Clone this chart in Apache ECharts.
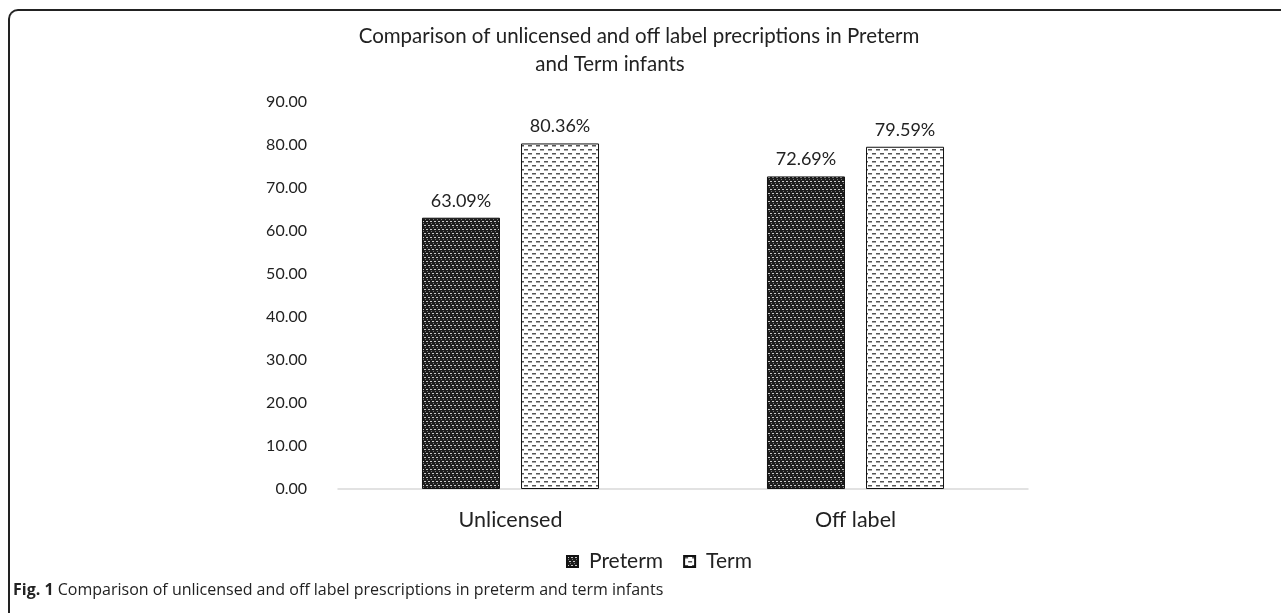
<!DOCTYPE html>
<html>
<head>
<meta charset="utf-8">
<script src="https://cdn.jsdelivr.net/npm/echarts@6/dist/echarts.min.js"></script>
<style>
  html, body { margin: 0; padding: 0; background: #fff; }
  #frame {
    position: absolute; left: 8px; top: 9px; width: 1300px; height: 700px;
    border-top: 2px solid #222; border-left: 2px solid #222;
    border-top-left-radius: 10px;
  }
  #chart { position: absolute; left: 0; top: 0; width: 1281px; height: 613px; }
</style>
</head>
<body>
<div id="frame"></div>
<div id="chart"></div>
<script>
// 数据
const categories = ['Unlicensed', 'Off label'];
const preterm = [63.09, 72.69];
const term = [80.36, 79.59];
const yTicks = [0, 10, 20, 30, 40, 50, 60, 70, 80, 90];

// 填充图案
function makePattern(kind) {
  const c = document.createElement('canvas');
  c.width = 8; c.height = 8;
  const ctx = c.getContext('2d');
  if (kind === 'dark') {
    ctx.fillStyle = '#1c1c1c';
    ctx.fillRect(0, 0, 8, 8);
    ctx.fillStyle = '#c8c8c8';
    ctx.fillRect(0, 1, 2, 1); ctx.fillRect(4, 1, 2, 1);
    ctx.fillRect(2, 5, 2, 1); ctx.fillRect(6, 5, 2, 1);
    ctx.fillStyle = '#777';
    ctx.fillRect(1, 3, 1, 1); ctx.fillRect(5, 3, 1, 1);
    ctx.fillRect(3, 7, 1, 1); ctx.fillRect(7, 7, 1, 1);
  } else {
    ctx.fillStyle = '#fff';
    ctx.fillRect(0, 0, 8, 8);
    ctx.fillStyle = '#555';
    ctx.fillRect(0, 1, 4, 1.5);
    ctx.fillRect(4, 5, 4, 1.5);
  }
  return { image: c, repeat: 'repeat' };
}

const chart = echarts.init(document.getElementById('chart'));
const font = 'Lato, "Open Sans", sans-serif';
const titleStyle = { fontFamily: font, fontSize: 20.5, fontWeight: 'normal', color: '#222' };

const option = {
  animation: false,
  textStyle: { fontFamily: font },
  title: [
    { text: 'Comparison of unlicensed and off label precriptions in Preterm',
      left: 634, top: 21, textAlign: 'center', textStyle: titleStyle },
    { text: 'and Term infants',
      left: 605, top: 49, textAlign: 'center', textStyle: titleStyle }
  ],
  legend: {
    top: 546, left: 561,
    icon: 'rect', itemWidth: 11, itemHeight: 11, itemGap: 20,
    textStyle: { fontFamily: font, fontSize: 21, color: '#222', padding: [0, 0, 0, 6] },
    data: ['Preterm', 'Term']
  },
  grid: { left: 338, right: 253, top: 102, bottom: 124 },
  xAxis: {
    type: 'category', data: categories,
    axisLine: { lineStyle: { color: '#d9d9d9', width: 1.5 } },
    axisTick: { show: false },
    axisLabel: { fontFamily: font, fontSize: 21.5, color: '#222', margin: 20 }
  },
  yAxis: {
    type: 'value', min: yTicks[0], max: yTicks[yTicks.length - 1], interval: 10,
    splitLine: { show: false },
    axisLabel: { fontFamily: font, fontSize: 16, color: '#222', margin: 31,
      formatter: v => v.toFixed(2) }
  },
  series: [
    {
      name: 'Preterm', type: 'bar', data: preterm,
      barWidth: 78, barGap: '27%',
      itemStyle: { color: makePattern('dark'), borderColor: '#111', borderWidth: 1 },
      label: { show: true, position: 'top', distance: 8, fontFamily: font, fontSize: 18, color: '#222',
        formatter: p => p.value.toFixed(2) + '%' }
    },
    {
      name: 'Term', type: 'bar', data: term,
      barWidth: 78,
      itemStyle: { color: makePattern('light'), borderColor: '#111', borderWidth: 1 },
      label: { show: true, position: 'top', distance: 8, fontFamily: font, fontSize: 18, color: '#222',
        formatter: p => p.value.toFixed(2) + '%' }
    }
  ],
  graphic: [{
    type: 'text', left: 13, top: 582,
    style: {
      text: '{b|Fig. 1} Comparison of unlicensed and off label prescriptions in preterm and term infants',
      font: '16px "Open Sans", sans-serif', fill: '#222',
      rich: { b: { fontFamily: '"Open Sans", sans-serif', fontSize: 16, fontWeight: 'bold', fill: '#222' } }
    }
  }]
};

chart.setOption(option);
</script>
</body>
</html>
